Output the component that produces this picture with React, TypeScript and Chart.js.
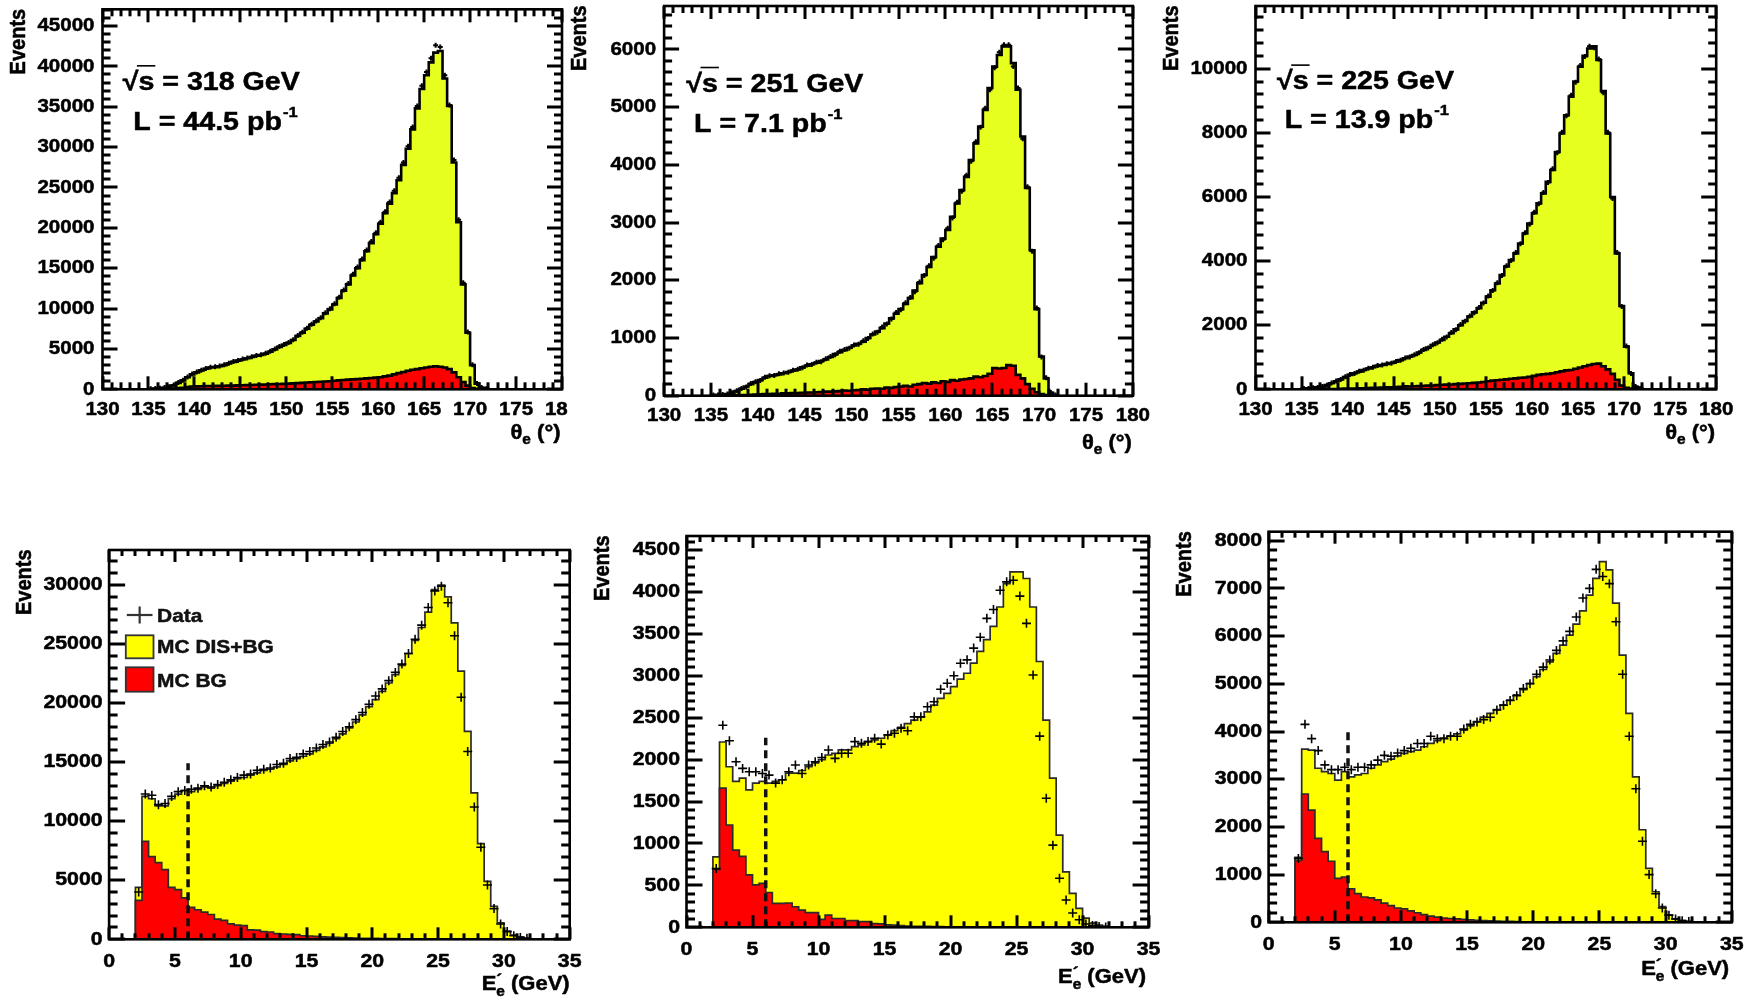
import React, { useEffect, useRef } from "react";
import { Chart, registerables } from "chart.js";

Chart.register(...registerables);

// ---------------- DATA ----------------
// theta_e histograms: 0.5 degree bins starting at 135 deg
const THETA_BIN_START = 135;
const THETA_BIN_WIDTH = 0.5;
// E'_e histograms: 0.5 GeV bins starting at 2 GeV
const E_BIN_START = 2;
const E_BIN_WIDTH = 0.5;

const THETA_318_MC = [
  50, 80, 120, 200, 300, 500, 800, 1100, 1500, 1850,
  2100, 2350, 2550, 2700, 2750, 2850, 3000, 3200, 3400, 3550,
  3700, 3850, 4000, 4150, 4250, 4400, 4650, 4950, 5250, 5500,
  5750, 6100, 6600, 7000, 7500, 8000, 8400, 8800, 9400, 9900,
  10500, 11300, 12200, 13000, 14100, 15000, 16000, 17100, 18100, 19200,
  20500, 21800, 23000, 24300, 25900, 27800, 29800, 32200, 34800, 37200,
  38900, 40500, 41700, 41900, 38500, 35100, 28100, 20700, 13000, 7000,
  3000, 700, 200, 50,
];
const THETA_318_BG = [
  0, 0, 10, 20, 50, 80, 150, 200, 280, 330,
  360, 380, 400, 410, 420, 430, 440, 450, 460, 480,
  500, 520, 540, 560, 580, 600, 620, 640, 660, 680,
  700, 730, 760, 800, 840, 870, 900, 930, 960, 1000,
  1050, 1100, 1150, 1200, 1230, 1260, 1300, 1350, 1400, 1450,
  1500, 1600, 1700, 1850, 2000, 2150, 2300, 2420, 2500, 2600,
  2700, 2800, 2850, 2800, 2700, 2500, 2100, 1500, 900, 450,
  150, 50, 0, 0,
];
const THETA_318_DATA = [
  60, 90, 130, 210, 320, 520, 830, 1120, 1530, 1880,
  2130, 2370, 2580, 2720, 2780, 2880, 3030, 3220, 3430, 3580,
  3740, 3880, 4040, 4180, 4290, 4450, 4700, 4990, 5300, 5550,
  5800, 6150, 6650, 7060, 7560, 8060, 8470, 8870, 9480, 9990,
  10600, 11400, 12300, 13100, 14250, 15150, 16150, 17250, 18300, 19400,
  20700, 22000, 23200, 24600, 26200, 28100, 30100, 32500, 35100, 37600,
  39300, 41000, 42600, 42400, 38900, 35200, 28400, 21000, 13200, 7100,
  3050, 720, 210, 60,
];

const THETA_251_MC = [
  10, 15, 20, 30, 50, 80, 120, 160, 200, 235,
  270, 310, 340, 355, 370, 390, 410, 435, 455, 490,
  520, 545, 570, 600, 630, 670, 720, 755, 790, 830,
  870, 900, 935, 1000, 1060, 1110, 1170, 1250, 1340, 1420,
  1500, 1590, 1690, 1820, 1950, 2090, 2230, 2400, 2580, 2720,
  2870, 3100, 3330, 3560, 3790, 4080, 4370, 4660, 4950, 5330,
  5700, 5900, 6050, 6050, 5760, 5300, 4490, 3600, 2520, 1500,
  680, 300, 50, 10,
];
const THETA_251_BG = [
  0, 0, 0, 0, 5, 5, 10, 10, 15, 20,
  25, 30, 30, 35, 35, 40, 40, 45, 45, 50,
  55, 55, 60, 65, 70, 70, 75, 80, 90, 85,
  95, 100, 110, 105, 120, 125, 120, 140, 135, 150,
  160, 170, 160, 190, 200, 220, 210, 230, 220, 250,
  240, 270, 260, 280, 290, 300, 330, 320, 340, 380,
  480, 470, 480, 530, 520, 360, 300, 200, 120, 60,
  30, 10, 0, 0,
];
const THETA_251_DATA = [
  12, 14, 22, 28, 52, 85, 125, 150, 210, 240,
  265, 320, 345, 350, 380, 395, 405, 440, 460, 485,
  530, 540, 580, 590, 640, 680, 710, 770, 800, 820,
  880, 890, 950, 990, 1070, 1100, 1190, 1240, 1330, 1440,
  1490, 1610, 1700, 1800, 1970, 2080, 2250, 2380, 2600, 2700,
  2900, 3080, 3350, 3540, 3820, 4060, 4400, 4650, 4980, 5300,
  5680, 5950, 6080, 6080, 5700, 5330, 4450, 3620, 2500, 1520,
  670, 310, 55, 12,
];

const THETA_225_MC = [
  20, 30, 40, 60, 80, 130, 190, 250, 310, 380,
  450, 500, 550, 600, 650, 690, 730, 760, 790, 820,
  860, 910, 970, 1020, 1070, 1150, 1230, 1300, 1380, 1460,
  1540, 1640, 1750, 1870, 2000, 2130, 2270, 2400, 2530, 2700,
  2890, 3090, 3300, 3560, 3830, 4030, 4240, 4550, 4860, 5170,
  5490, 5800, 6110, 6470, 6840, 7400, 7980, 8550, 9130, 9600,
  10060, 10400, 10630, 10700, 10270, 9300, 7980, 6000, 4240, 2600,
  1330, 500, 80, 20,
];
const THETA_225_BG = [
  0, 0, 0, 0, 0, 5, 5, 10, 15, 20,
  20, 25, 30, 35, 40, 45, 50, 55, 60, 60,
  70, 80, 90, 85, 95, 100, 110, 115, 120, 130,
  140, 145, 150, 160, 170, 180, 190, 200, 210, 230,
  250, 270, 280, 300, 310, 330, 340, 360, 370, 390,
  420, 450, 470, 480, 500, 530, 560, 590, 600, 640,
  680, 720, 760, 790, 800, 720, 620, 480, 300, 120,
  50, 20, 0, 0,
];
const THETA_225_DATA = [
  25, 28, 45, 55, 85, 125, 195, 255, 305, 390,
  460, 495, 560, 595, 660, 685, 740, 755, 800, 815,
  870, 905, 980, 1010, 1080, 1140, 1240, 1290, 1390, 1450,
  1560, 1630, 1770, 1860, 2020, 2120, 2290, 2390, 2550, 2690,
  2910, 3080, 3320, 3550, 3850, 4020, 4270, 4540, 4880, 5150,
  5520, 5790, 6140, 6450, 6880, 7380, 8020, 8530, 9170, 9580,
  10100, 10380, 10700, 10650, 10300, 9250, 8020, 5950, 4270, 2580,
  1350, 490, 85, 22,
];

const E_318_MC = [
  4400, 12100, 11900, 11300, 11300, 11900, 12300, 12600, 12500, 12700,
  12900, 12800, 13000, 13200, 13400, 13600, 13700, 13900, 14100, 14300,
  14400, 14600, 14800, 15100, 15300, 15500, 15700, 16000, 16300, 16600,
  17000, 17400, 17900, 18400, 19000, 19700, 20300, 21000, 21700, 22400,
  23200, 24200, 25300, 26400, 27700, 29600, 30000, 29000, 26800, 22700,
  17600, 12400, 8100, 4900, 2800, 1400, 700, 350, 200, 100,
];
const E_318_BG = [
  3300, 8300, 7000, 6500, 5900, 4400, 4200, 3500, 2700, 2500,
  2300, 2100, 1700, 1600, 1300, 1200, 1150, 800, 780, 650,
  620, 480, 450, 420, 400, 300, 280, 250, 200, 180,
  160, 140, 120, 100, 90, 80, 70, 60, 55, 50,
  45, 40, 35, 30, 25, 20, 20, 15, 15, 10,
  10, 8, 5, 5, 3, 2, 0, 0, 0, 0,
];
const E_318_DATA = [
  4000, 12300, 12200, 11400, 11500, 12100, 12500, 12600, 12700, 12800,
  13000, 12900, 13100, 13300, 13500, 13700, 13900, 14000, 14300, 14400,
  14500, 14800, 14900, 15300, 15400, 15700, 15900, 16200, 16500, 16700,
  17100, 17600, 18000, 18600, 19200, 19900, 20600, 21200, 21900, 22600,
  23300, 24200, 25400, 26600, 28100, 29500, 29900, 28500, 25700, 20500,
  15900, 11200, 7800, 4600, 2600, 1300, 650, 300, 150, 80,
];

const E_251_MC = [
  840, 2210, 1915, 1740, 1780, 1640, 1720, 1740, 1720, 1740,
  1760, 1840, 1840, 1870, 1915, 1960, 2000, 2055, 2075, 2115,
  2115, 2155, 2175, 2215, 2235, 2255, 2295, 2345, 2385, 2430,
  2470, 2510, 2570, 2650, 2730, 2790, 2870, 2960, 3030, 3150,
  3290, 3430, 3590, 3820, 4100, 4240, 4240, 4160, 3820, 3170,
  2470, 1780, 1100, 660, 405, 225, 110, 50, 25, 15,
];
const E_251_BG = [
  690, 1660, 1220, 920, 845, 625, 505, 525, 415, 285,
  285, 290, 245, 205, 175, 175, 95, 145, 105, 105,
  80, 80, 68, 68, 45, 40, 30, 25, 20, 15,
  12, 10, 10, 8, 8, 6, 5, 5, 4, 4,
  3, 3, 2, 2, 2, 1, 1, 1, 1, 0,
  0, 0, 0, 0, 0, 0, 0, 0, 0, 0,
];
const E_251_DATA = [
  700, 2410, 2225, 1975, 1895, 1855, 1855, 1835, 1815, 1720,
  1760, 1855, 1935, 1835, 1935, 1975, 2025, 2115, 2015, 2075,
  2075, 2215, 2195, 2215, 2255, 2185, 2295, 2315, 2375, 2345,
  2510, 2510, 2630, 2690, 2840, 2910, 3000, 3150, 3190, 3330,
  3460, 3685, 3790, 4020, 4120, 4140, 3950, 3625, 3010, 2280,
  1540, 980, 585, 325, 170, 90, 40, 20, 10, 5,
];

const E_225_MC = [
  1360, 3630, 3610, 3230, 3160, 3120, 2980, 3160, 3050, 3090,
  3120, 3230, 3300, 3370, 3420, 3490, 3540, 3580, 3610, 3680,
  3750, 3810, 3860, 3910, 3950, 4030, 4120, 4210, 4300, 4380,
  4460, 4560, 4660, 4770, 4880, 5010, 5150, 5300, 5460, 5640,
  5810, 6020, 6250, 6530, 6860, 7210, 7560, 7390, 6690, 5600,
  4380, 3050, 1940, 1130, 640, 330, 150, 70, 40, 20,
];
const E_225_BG = [
  1300, 2690, 2350, 1760, 1480, 1280, 920, 950, 700, 600,
  530, 510, 470, 400, 350, 300, 280, 240, 200, 160,
  130, 110, 90, 80, 70, 60, 50, 40, 35, 30,
  25, 20, 18, 15, 12, 10, 8, 6, 5, 4,
  3, 3, 2, 2, 1, 1, 1, 0, 0, 0,
  0, 0, 0, 0, 0, 0, 0, 0, 0, 0,
];
const E_225_DATA = [
  1340, 4150, 3850, 3600, 3300, 3200, 3200, 3250, 3200, 3250,
  3250, 3300, 3400, 3500, 3480, 3550, 3600, 3650, 3750, 3750,
  3900, 3850, 3850, 3900, 3900, 4050, 4150, 4200, 4250, 4300,
  4450, 4550, 4650, 4750, 4900, 5000, 5200, 5350, 5500, 5700,
  5900, 6100, 6400, 6800, 7000, 7400, 7250, 7100, 6300, 5200,
  3900, 2800, 1700, 1000, 600, 300, 150, 70, 30, 15,
];

// axis ranges and tick labels
const THETA_RANGE = [130, 180];
const E_RANGE = [0, 35];
const THETA_TICKS = [130, 135, 140, 145, 150, 155, 160, 165, 170, 175, 180];
const E_TICKS = [0, 5, 10, 15, 20, 25, 30, 35];
const Y_TICKS_THETA_318 = [0, 5000, 10000, 15000, 20000, 25000, 30000, 35000, 40000, 45000];
const Y_TICKS_THETA_251 = [0, 1000, 2000, 3000, 4000, 5000, 6000];
const Y_TICKS_THETA_225 = [0, 2000, 4000, 6000, 8000, 10000];
const Y_TICKS_E_318 = [0, 5000, 10000, 15000, 20000, 25000, 30000];
const Y_TICKS_E_251 = [0, 500, 1000, 1500, 2000, 2500, 3000, 3500, 4000, 4500];
const Y_TICKS_E_225 = [0, 1000, 2000, 3000, 4000, 5000, 6000, 7000, 8000];

const ENERGIES = ["318", "251", "225"];
const LUMIS = ["44.5", "7.1", "13.9"];
const E_CUT = 6;
const CUT_TOPS = [14900, 2260, 4030];
const LEGEND_LABELS = ["Data", "MC DIS+BG", "MC BG"];

// ---------------- STYLE / LAYOUT ----------------
const FONT = '"Liberation Sans", Arial, Helvetica, sans-serif';
const TOP_YELLOW = "#e6ff1e";
const BOT_YELLOW = "#ffff00";
const RED = "#ff0000";

type Kind = "theta" | "e";
interface Panel {
  id: string;
  kind: Kind;
  mc: number[];
  bg: number[];
  data: number[];
  yMax: number;
  yTicks: number[];
  yMinor: number;
  energy?: string;
  lumi?: string;
  cutTop?: number;
  legend?: boolean;
  box: [number, number, number, number];
  frame: [number, number, number, number];
  note?: [number, number, number, number];
  titleDx: number;
  titleDy: number;
}

const PANELS: Panel[] = [
  {
    id: "t318", kind: "theta", mc: THETA_318_MC, bg: THETA_318_BG, data: THETA_318_DATA,
    yMax: 47068, yTicks: Y_TICKS_THETA_318, yMinor: 1000, energy: ENERGIES[0], lumi: LUMIS[0],
    box: [0, 0, 568, 462], frame: [102.5, 9.3, 562.3, 389.3], note: [20.2, 80.7, 30.8, 120.7],
    titleDx: -1.5, titleDy: 50,
  },
  {
    id: "t251", kind: "theta", mc: THETA_251_MC, bg: THETA_251_BG, data: THETA_251_DATA,
    yMax: 6750, yTicks: Y_TICKS_THETA_251, yMinor: 200, energy: ENERGIES[1], lumi: LUMIS[1],
    box: [568, 0, 1158, 462], frame: [664.1, 6, 1132.9, 395.7], note: [22.2, 85.7, 29.9, 125.7],
    titleDx: -1, titleDy: 53,
  },
  {
    id: "t225", kind: "theta", mc: THETA_225_MC, bg: THETA_225_BG, data: THETA_225_DATA,
    yMax: 11956, yTicks: Y_TICKS_THETA_225, yMinor: 400, energy: ENERGIES[2], lumi: LUMIS[2],
    box: [1158, 0, 1745, 462], frame: [1255.5, 6, 1716.2, 389.3], note: [21.5, 83.3, 29.2, 122.3],
    titleDx: -1, titleDy: 50,
  },
  {
    id: "e318", kind: "e", mc: E_318_MC, bg: E_318_BG, data: E_318_DATA,
    yMax: 32963, yTicks: Y_TICKS_E_318, yMinor: 1000, cutTop: CUT_TOPS[0], legend: true,
    box: [0, 515, 582, 999], frame: [109.1, 550, 569.7, 939.3],
    titleDx: 0, titleDy: 51,
  },
  {
    id: "e251", kind: "e", mc: E_251_MC, bg: E_251_BG, data: E_251_DATA,
    yMax: 4667, yTicks: Y_TICKS_E_251, yMinor: 100, cutTop: CUT_TOPS[1],
    box: [582, 515, 1162, 999], frame: [686.5, 536, 1148.6, 927.3],
    titleDx: -2.6, titleDy: 55.5,
  },
  {
    id: "e225", kind: "e", mc: E_225_MC, bg: E_225_BG, data: E_225_DATA,
    yMax: 8189, yTicks: Y_TICKS_E_225, yMinor: 200, cutTop: CUT_TOPS[2],
    box: [1162, 515, 1745, 999], frame: [1268.6, 531.7, 1731.8, 922.3],
    titleDx: -2.6, titleDy: 52.5,
  },
];

// ---------------- helpers ----------------
function histPoints(values: number[], start: number, width: number) {
  const pts = [{ x: start, y: 0 }];
  values.forEach((v, i) => pts.push({ x: start + i * width, y: v }));
  pts.push({ x: start + values.length * width, y: 0 });
  return pts;
}
function centerPoints(values: number[], start: number, width: number) {
  return values.map((v, i) => ({ x: start + (i + 0.5) * width, y: v }));
}

function text(
  ctx: CanvasRenderingContext2D, s: string, x: number, y: number, size: number,
  align: CanvasTextAlign, baseline: CanvasTextBaseline, stretch = 1.1, heavy = 0.5
) {
  ctx.save();
  ctx.font = `bold ${size}px ${FONT}`;
  ctx.textAlign = align;
  ctx.textBaseline = baseline;
  ctx.translate(x, y);
  ctx.scale(stretch, 1);
  ctx.fillText(s, 0, 0);
  if (heavy > 0) {
    ctx.lineWidth = heavy;
    ctx.strokeStyle = ctx.fillStyle as string;
    ctx.lineJoin = "round";
    ctx.strokeText(s, 0, 0);
  }
  ctx.restore();
}
function measure(ctx: CanvasRenderingContext2D, s: string, size: number) {
  ctx.save();
  ctx.font = `bold ${size}px ${FONT}`;
  const w = ctx.measureText(s).width;
  ctx.restore();
  return w;
}

interface Part { t: string; size: number; dy?: number; stack?: boolean }
function rich(ctx: CanvasRenderingContext2D, parts: Part[], xRight: number, baseline: number, stretch = 1.1) {
  let total = 0;
  let pending = 0;
  for (const p of parts) {
    const w = measure(ctx, p.t, p.size) * stretch;
    if (p.stack) pending = w;
    else { total += Math.max(w, pending); pending = 0; }
  }
  let x = xRight - total;
  pending = 0;
  for (const p of parts) {
    const w = measure(ctx, p.t, p.size) * stretch;
    text(ctx, p.t, x, baseline + (p.dy || 0), p.size, "left", "alphabetic", stretch);
    if (p.stack) pending = w;
    else { x += Math.max(w, pending); pending = 0; }
  }
}

// frame + inward ROOT-style tick marks
function drawFrameAndTicks(chart: any, p: Panel) {
  const isTheta = p.kind === "theta";
  const range = isTheta ? THETA_RANGE : E_RANGE;
  const yStep = p.yTicks[1] - p.yTicks[0];
  const lens = isTheta ? [13, 7, 15, 8] : [12, 6, 16, 8.5];
  const ctx: CanvasRenderingContext2D = chart.ctx;
  const area = chart.chartArea;
  const L = area.left, R = area.right, T = area.top, B = area.bottom;
  const W = R - L, H = B - T;
  ctx.save();
  ctx.setLineDash([]);
  ctx.globalAlpha = 1;
  ctx.fillStyle = "#000000";
  ctx.strokeStyle = "#000000";

  // x ticks: positions from the x scale (fallback to linear map of the axis range)
  const nx = Math.round(range[1] - range[0]);
  for (let i = 0; i <= nx; i++) {
    const v = range[0] + i;
    let px = chart.scales.x.getPixelForValue(v);
    if (!Number.isFinite(px)) px = L + ((v - range[0]) / (range[1] - range[0])) * W;
    const len = i % 5 === 0 ? lens[0] : lens[1];
    ctx.fillRect(Math.round(px) - 1.5, B - len, 3, len);
    ctx.fillRect(Math.round(px) - 1.5, T, 3, len);
  }
  // y ticks
  const ny = Math.floor(p.yMax / p.yMinor);
  for (let i = 0; i <= ny; i++) {
    const v = i * p.yMinor;
    let py = chart.scales.y.getPixelForValue(v);
    if (!Number.isFinite(py)) py = B - (v / p.yMax) * H;
    const len = Math.abs(v % yStep) < 1e-6 ? lens[2] : lens[3];
    ctx.fillRect(L, Math.round(py) - 1.5, len, 3);
    ctx.fillRect(R - len, Math.round(py) - 1.5, len, 3);
  }

  // frame
  ctx.lineWidth = 2.6;
  ctx.strokeRect(L, T, W, H);
  ctx.restore();
}

function makePlugin(p: Panel) {
  const isTheta = p.kind === "theta";
  const xTicks = isTheta ? THETA_TICKS : E_TICKS;
  return {
    id: "rootStyle",
    afterDraw(chart: any) {
      const ctx: CanvasRenderingContext2D = chart.ctx;
      const a = chart.chartArea;
      const xs = chart.scales.x;
      const ys = chart.scales.y;
      drawFrameAndTicks(chart, p);
      ctx.save();
      ctx.fillStyle = "#000000";
      ctx.strokeStyle = "#000000";

      // tick labels
      const lblSize = 19;
      const lblStretch = isTheta ? 1.08 : 1.12;
      xTicks.forEach((v) => {
        text(ctx, String(v), xs.getPixelForValue(v), a.bottom + (isTheta ? 20 : 22), lblSize, "center", "middle", lblStretch);
      });
      p.yTicks.forEach((v) => {
        text(ctx, String(v), a.left - (isTheta ? 8 : 6.5), ys.getPixelForValue(v), lblSize, "right", "middle", lblStretch);
      });

      // y title
      ctx.save();
      ctx.translate(a.left - 84, a.top - 0.5);
      ctx.rotate(-Math.PI / 2);
      ctx.scale(1, 1.1);
      ctx.font = `bold 20px ${FONT}`;
      ctx.textAlign = "right";
      ctx.textBaseline = "middle";
      ctx.fillText("Events", 0, 0);
      ctx.lineWidth = 0.5;
      ctx.strokeText("Events", 0, 0);
      ctx.restore();

      // x title
      const tx = a.right + p.titleDx;
      const ty = a.bottom + p.titleDy;
      if (isTheta) {
        rich(ctx, [{ t: "θ", size: 20 }, { t: "e", size: 14, dy: 5 }, { t: " (°)", size: 20 }], tx, ty);
      } else {
        rich(ctx, [
          { t: "E", size: 20 },
          { t: "´", size: 16, dy: -4, stack: true },
          { t: "e", size: 14, dy: 6 },
          { t: " (GeV)", size: 20 },
        ], tx, ty);
      }

      // annotations (top row)
      if (isTheta && p.note && p.energy && p.lumi) {
        const size = 26;
        const st = 1.1;
        const sx = a.left + p.note[0];
        const sy = a.top + p.note[1];
        const wr = measure(ctx, "√", size) * st;
        const ws = measure(ctx, "s", size) * st;
        text(ctx, "√", sx, sy, size, "left", "alphabetic", st);
        text(ctx, "s", sx + wr, sy, size, "left", "alphabetic", st);
        text(ctx, ` = ${p.energy} GeV`, sx + wr + ws, sy, size, "left", "alphabetic", st);
        ctx.fillRect(sx + wr - 1.5, sy - size * 0.93 - 0.8, ws + 2.5, 1.6);

        const lx = a.left + p.note[2];
        const ly = a.top + p.note[3];
        const main = `L = ${p.lumi} pb`;
        text(ctx, main, lx, ly, size, "left", "alphabetic", st);
        const wm = measure(ctx, main, size) * st;
        text(ctx, "-1", lx + wm + 1, ly - 13, 15, "left", "alphabetic", st);
      }

      // legend (bottom-left panel)
      if (p.legend) {
        const lx = a.left + 16.7;
        const lw = 27.7;
        const cx = lx + lw / 2;
        const cy = a.top + 65;
        ctx.fillStyle = "#333";
        ctx.fillRect(lx + 1, cy - 1.1, lw - 2, 2.2);
        ctx.fillRect(cx - 1.1, cy - 8.5, 2.2, 17);
        ctx.strokeStyle = "#333";
        ctx.lineWidth = 1.8;
        ctx.fillStyle = BOT_YELLOW;
        ctx.fillRect(lx, a.top + 85.3, lw, 23);
        ctx.strokeRect(lx, a.top + 85.3, lw, 23);
        ctx.fillStyle = RED;
        ctx.fillRect(lx, a.top + 117.3, lw, 24.4);
        ctx.strokeRect(lx, a.top + 117.3, lw, 24.4);
        ctx.fillStyle = "#111";
        text(ctx, LEGEND_LABELS[0], a.left + 48, a.top + 71.7, 19, "left", "alphabetic", 1.1);
        text(ctx, LEGEND_LABELS[1], a.left + 48, a.top + 103.3, 19, "left", "alphabetic", 1.1);
        text(ctx, LEGEND_LABELS[2], a.left + 48, a.top + 136.7, 19, "left", "alphabetic", 1.1);
      }
      ctx.restore();
    },
  };
}

function buildConfig(p: Panel): any {
  const isTheta = p.kind === "theta";
  const start = isTheta ? THETA_BIN_START : E_BIN_START;
  const width = isTheta ? THETA_BIN_WIDTH : E_BIN_WIDTH;
  const range = isTheta ? THETA_RANGE : E_RANGE;
  const lineColor = isTheta ? "#000" : "#2a2a2a";
  const lineW = isTheta ? 2.6 : 1.7;
  const datasets: any[] = [
    {
      label: "MC DIS+BG",
      data: histPoints(p.mc, start, width),
      stepped: true,
      fill: "origin",
      backgroundColor: isTheta ? TOP_YELLOW : BOT_YELLOW,
      borderColor: lineColor,
      borderWidth: lineW,
      pointRadius: 0,
      order: 4,
    },
    {
      label: "MC BG",
      data: histPoints(p.bg, start, width),
      stepped: true,
      fill: "origin",
      backgroundColor: RED,
      borderColor: lineColor,
      borderWidth: lineW,
      pointRadius: 0,
      order: 3,
    },
    {
      label: "Data",
      data: centerPoints(p.data, start, width),
      showLine: false,
      pointStyle: "cross",
      pointRadius: isTheta ? 2.5 : 4.5,
      pointBorderWidth: isTheta ? 2 : 1.6,
      pointBorderColor: "#000",
      pointBackgroundColor: "#000",
      order: 1,
    },
  ];
  if (p.cutTop !== undefined) {
    datasets.push({
      label: "cut",
      data: [{ x: E_CUT, y: 0 }, { x: E_CUT, y: p.cutTop }],
      borderColor: "#111",
      borderWidth: 3.5,
      borderDash: [8, 5],
      pointRadius: 0,
      fill: false,
      order: 2,
    });
  }
  const [bl, bt, br, bb] = p.box;
  const [fl, ft, fr, fb] = p.frame;
  return {
    type: "line",
    data: { datasets },
    options: {
      animation: false,
      responsive: false,
      maintainAspectRatio: false,
      events: [],
      layout: { padding: { left: fl - bl, top: ft - bt, right: br - fr, bottom: bb - fb } },
      scales: {
        x: { type: "linear", min: range[0], max: range[1], display: false },
        y: { type: "linear", min: 0, max: p.yMax, display: false },
      },
      plugins: { legend: { display: false }, tooltip: { enabled: false } },
    },
    plugins: [makePlugin(p)],
  };
}

function PanelChart({ p }: { p: Panel }) {
  const ref = useRef<HTMLCanvasElement>(null);
  useEffect(() => {
    if (!ref.current) return;
    const chart = new Chart(ref.current, buildConfig(p));
    return () => chart.destroy();
  }, [p]);
  const w = p.box[2] - p.box[0];
  const h = p.box[3] - p.box[1];
  return (
    <canvas
      ref={ref}
      width={w}
      height={h}
      style={{ position: "absolute", left: p.box[0], top: p.box[1], width: w, height: h }}
    />
  );
}

export default function App() {
  return (
    <div style={{ position: "absolute", left: 0, top: 0, width: 1745, height: 999, background: "#fff", overflow: "hidden" }}>
      {PANELS.map((p) => (
        <PanelChart key={p.id} p={p} />
      ))}
    </div>
  );
}
